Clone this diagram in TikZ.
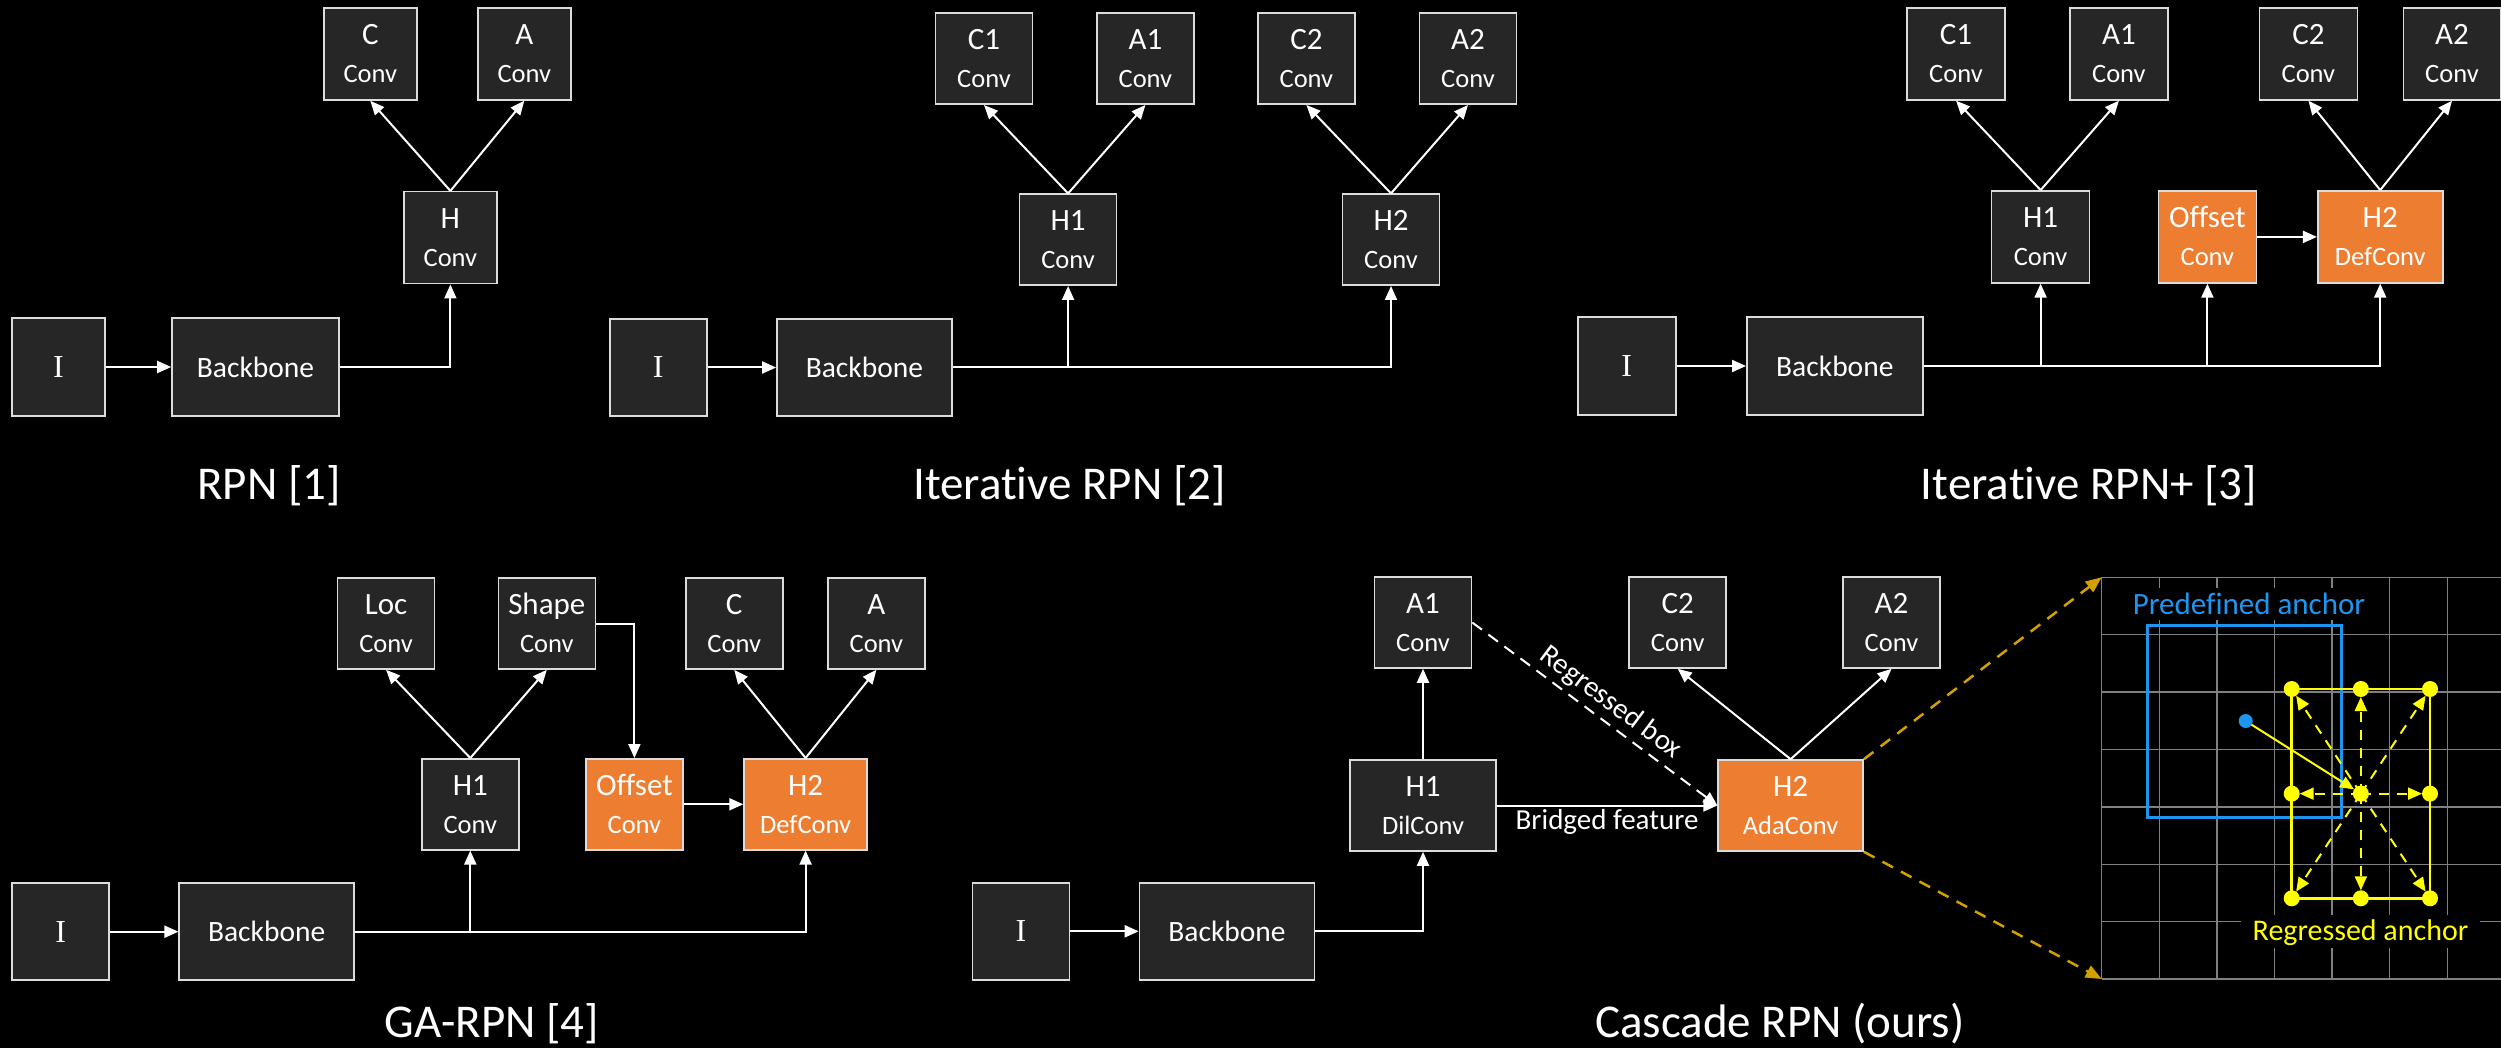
\documentclass[tikz,border=0pt]{standalone}
\usepackage{fontspec}
\setmainfont{Carlito}[Ligatures=NoCommon]
\newfontfamily\romanI{Liberation Serif}
\usetikzlibrary{arrows.meta}

\definecolor{boxgray}{HTML}{262626}
\definecolor{edgegray}{HTML}{DCDCDC}
\definecolor{accorange}{HTML}{ED7D31}
\definecolor{gridgray}{HTML}{808080}
\definecolor{anchorblue}{HTML}{1E96F0}
\definecolor{anchoryellow}{HTML}{FFFF00}
\definecolor{linkgold}{HTML}{D4A000}

\newcommand\fsz[1]{\fontsize{#1}{#1}\selectfont}
% two-line block label: name on top, operator below, fixed baselines
\newcommand\duo[2]{\vbox{\offinterlineskip\halign{\hfil##\hfil\cr
  \fsz{31pt}\rule{0pt}{20pt}\smash{#1}\cr
  \fsz{26.5pt}\rule{0pt}{38pt}\smash{#2}\cr}}}

\begin{document}
\begin{tikzpicture}[x=1pt,y=-1pt,
  blk/.style={rectangle, draw=edgegray, line width=1.6pt, fill=boxgray, text=white,
              inner sep=0pt, minimum height=92pt},
  hot/.style={blk, fill=accorange},
  bw/.style={minimum width=#1},
  bh/.style={minimum height=#1},
  img/.style={blk, font=\romanI\fsz{32pt}},
  bbn/.style={blk, font=\fsz{29.5pt}},
  ttl/.style={text=white, font=\fsz{47pt}, anchor=base, inner sep=0pt},
  arr/.style={draw=white, line width=2pt, -{Triangle[length=14pt,width=12pt]}},
  lbl/.style={text=white, font=\fsz{29pt}, inner sep=3pt},
  goldarr/.style={draw=linkgold, line width=2.5pt, dash pattern=on 12pt off 9pt,
                  -{Triangle[length=16pt,width=13pt]}},
  gridln/.style={draw=gridgray, line width=1.4pt},
  ydash/.style={draw=anchoryellow, line width=2pt, dash pattern=on 10pt off 8pt,
                shorten >=8pt, -{Triangle[length=14pt,width=12pt]}},
  ysolid/.style={draw=anchoryellow, line width=2pt, shorten >=8pt,
                 -{Triangle[length=14pt,width=12pt]}}
]
\path[fill=black] (0,0) rectangle (2501,1048);
\useasboundingbox (0,0) rectangle (2501,1048);

% ---------------- RPN [1]
\node[img, bw=93pt, bh=98pt] (i1) at (58.5,367) {I};
\node[bbn, bw=167pt, bh=98pt] (bb1) at (255.5,367) {Backbone};
\node[blk, bw=93pt] (h1) at (450.4,237.7) {\duo{H}{Conv}};
\node[blk, bw=93pt] (c1) at (370.3,54) {\duo{C}{Conv}};
\node[blk, bw=93pt] (a1) at (524.3,54) {\duo{A}{Conv}};
\node[ttl] (t1) at (269,499) {RPN [1]};
\draw[arr] (i1.east) -- (bb1.west);
\draw[arr] (bb1.east) -| (h1.south);
\draw[arr] (h1.north) -- (c1.south);
\draw[arr] (h1.north) -- (a1.south);

% ---------------- Iterative RPN [2]
\node[img, bw=97pt, bh=97pt] (i2) at (658.3,367.5) {I};
\node[bbn, bw=175pt, bh=97pt] (bb2) at (864.4,367.5) {Backbone};
\node[blk, bw=97pt, bh=91pt] (h21) at (1068.1,239.7) {\duo{H1}{Conv}};
\node[blk, bw=97pt, bh=91pt] (h22) at (1391,239.7) {\duo{H2}{Conv}};
\node[blk, bw=97pt, bh=91pt] (c21) at (984,58.7) {\duo{C1}{Conv}};
\node[blk, bw=97pt, bh=91pt] (a21) at (1145.4,58.7) {\duo{A1}{Conv}};
\node[blk, bw=97pt, bh=91pt] (c22) at (1306.4,58.7) {\duo{C2}{Conv}};
\node[blk, bw=97pt, bh=91pt] (a22) at (1468,58.7) {\duo{A2}{Conv}};
\node[ttl] (t2) at (1069.5,499) {Iterative RPN [2]};
\draw[arr] (i2.east) -- (bb2.west);
\draw[arr] (bb2.east) -| (h21.south);
\draw[arr] (bb2.east) -| (h22.south);
\draw[arr] (h21.north) -- (c21.south);
\draw[arr] (h21.north) -- (a21.south);
\draw[arr] (h22.north) -- (c22.south);
\draw[arr] (h22.north) -- (a22.south);

% ---------------- Iterative RPN+ [3]
\node[img, bw=98pt, bh=98pt] (i3) at (1626.7,366) {I};
\node[bbn, bw=176pt, bh=98pt] (bb3) at (1834.8,366) {Backbone};
\node[blk, bw=98pt] (h31) at (2040.6,236.9) {\duo{H1}{Conv}};
\node[hot, bw=98pt] (off3) at (2207.4,236.9) {\duo{Offset}{Conv}};
\node[hot, bw=125pt] (h32) at (2380.2,236.9) {\duo{H2}{DefConv}};
\node[blk, bw=98pt] (c31) at (1956,53.9) {\duo{C1}{Conv}};
\node[blk, bw=98pt] (a31) at (2118.9,53.9) {\duo{A1}{Conv}};
\node[blk, bw=98pt] (c32) at (2308.4,53.9) {\duo{C2}{Conv}};
\node[blk, bw=97pt] (a32) at (2452,53.9) {\duo{A2}{Conv}};
\node[ttl] (t3) at (2089,499) {Iterative RPN+ [3]};
\draw[arr] (i3.east) -- (bb3.west);
\draw[arr] (bb3.east) -| (h31.south);
\draw[arr] (bb3.east) -| (off3.south);
\draw[arr] (bb3.east) -| (h32.south);
\draw[arr] (off3.east) -- (h32.west);
\draw[arr] (h31.north) -- (c31.south);
\draw[arr] (h31.north) -- (a31.south);
\draw[arr] (h32.north) -- (c32.south);
\draw[arr] (h32.north) -- (a32.south);

% ---------------- GA-RPN [4]
\node[img, bw=97pt, bh=97pt] (i4) at (60.6,931.7) {I};
\node[bbn, bw=175pt, bh=97pt] (bb4) at (266.7,931.7) {Backbone};
\node[blk, bw=97pt, bh=91pt] (h41) at (470.3,804.3) {\duo{H1}{Conv}};
\node[hot, bw=97pt, bh=91pt] (off4) at (634.4,804.3) {\duo{Offset}{Conv}};
\node[hot, bw=123pt, bh=91pt] (h42) at (805.6,804.3) {\duo{H2}{DefConv}};
\node[blk, bw=97pt, bh=91pt] (loc4) at (386.1,623.5) {\duo{Loc}{Conv}};
\node[blk, bw=97pt, bh=91pt] (shp4) at (546.8,623.5) {\duo{Shape}{Conv}};
\node[blk, bw=97pt, bh=91pt] (c4) at (734.2,623.5) {\duo{C}{Conv}};
\node[blk, bw=97pt, bh=91pt] (a4) at (876.4,623.5) {\duo{A}{Conv}};
\node[ttl] (t4) at (492,1037) {GA-RPN [4]};
\draw[arr] (i4.east) -- (bb4.west);
\draw[arr] (bb4.east) -| (h41.south);
\draw[arr] (bb4.east) -| (h42.south);
\draw[arr] (h41.north) -- (loc4.south);
\draw[arr] (h41.north) -- (shp4.south);
\draw[arr] (shp4.east) -| (off4.north);
\draw[arr] (off4.east) -- (h42.west);
\draw[arr] (h42.north) -- (c4.south);
\draw[arr] (h42.north) -- (a4.south);

% ---------------- Cascade RPN (ours)
\node[img, bw=97pt, bh=97pt] (i5) at (1020.9,931.3) {I};
\node[bbn, bw=175pt, bh=97pt] (bb5) at (1227,931.3) {Backbone};
\node[blk, bw=146pt, bh=91pt] (h51) at (1423,805.5) {\duo{H1}{DilConv}};
\node[hot, bw=145pt, bh=91pt] (h52) at (1790.6,805.5) {\duo{H2}{AdaConv}};
\node[blk, bw=97pt, bh=91pt] (a51) at (1423,622.5) {\duo{A1}{Conv}};
\node[blk, bw=97pt, bh=91pt] (c52) at (1677.7,622.5) {\duo{C2}{Conv}};
\node[blk, bw=97pt, bh=91pt] (a52) at (1891.5,622.5) {\duo{A2}{Conv}};
\node[ttl, anchor=base west] (t5) at (1595,1037) {Cascade RPN (ours)};
\draw[arr] (i5.east) -- (bb5.west);
\draw[arr] (bb5.east) -| (h51.south);
\draw[arr] (h51.north) -- (a51.south);
\draw[arr] (h51.east) -- node[lbl, below] (bf) {Bridged feature} (h52.west);
\draw[arr, dash pattern=on 12pt off 8pt] (a51.east) --
  node[lbl, sloped, above, pos=0.52, inner sep=5pt] (rb) {Regressed box} (h52.west);
\draw[arr] (h52.north) -- (c52.south);
\draw[arr] (h52.north) -- (a52.south);

% ---------------- anchor grid
\foreach \k in {0,...,6}
  \draw[gridln] ({2101.7+\k*57.6},577.3) -- ({2101.7+\k*57.6},979);
\foreach \j in {0,...,7}
  \draw[gridln] (2101.7,{577.3+\j*57.4}) -- (2501,{577.3+\j*57.4});
\coordinate (gtl) at (2101.7,577.3);
\coordinate (gbl) at (2101.7,979);
\draw[goldarr] (h52.north east) -- (gtl);
\draw[goldarr] (h52.south east) -- (gbl);

\node[fill=black, text=anchorblue, font=\fsz{31pt}, inner xsep=8pt, inner ysep=5pt]
  (pdl) at (2249,604.2) {Predefined anchor};
\node[fill=black, text=anchoryellow, font=\fsz{30pt}, inner xsep=12pt, inner ysep=4pt,
      text height=21pt, text depth=4pt, anchor=base]
  (rgl) at (2360.5,940) {Regressed anchor};

% predefined anchor
\draw[anchorblue, line width=2.8pt] (2147.7,625.7) rectangle (2341.3,817.7);
\coordinate (pc) at (2245.7,721);

% regressed anchor and its sample points
\coordinate (yc)  at (2360.85,793.65);
\coordinate (ytl) at (2291.7,689);
\coordinate (ytm) at (2360.85,689);
\coordinate (ytr) at (2430,689);
\coordinate (yml) at (2291.7,793.65);
\coordinate (ymr) at (2430,793.65);
\coordinate (ybl) at (2291.7,898.3);
\coordinate (ybm) at (2360.85,898.3);
\coordinate (ybr) at (2430,898.3);
\draw[anchoryellow, line width=2.8pt] (ytl) rectangle (ybr);
\foreach \p in {ytl,ytm,ytr,yml,ymr,ybl,ybm,ybr}
  \draw[ydash] (yc) -- (\p);
\foreach \p in {yc,ytl,ytm,ytr,yml,ymr,ybl,ybm,ybr}
  \fill[anchoryellow] (\p) circle (8pt);
\draw[ysolid] (pc) -- (yc);
\fill[anchorblue] (pc) circle (7pt);
\end{tikzpicture}
\end{document}
